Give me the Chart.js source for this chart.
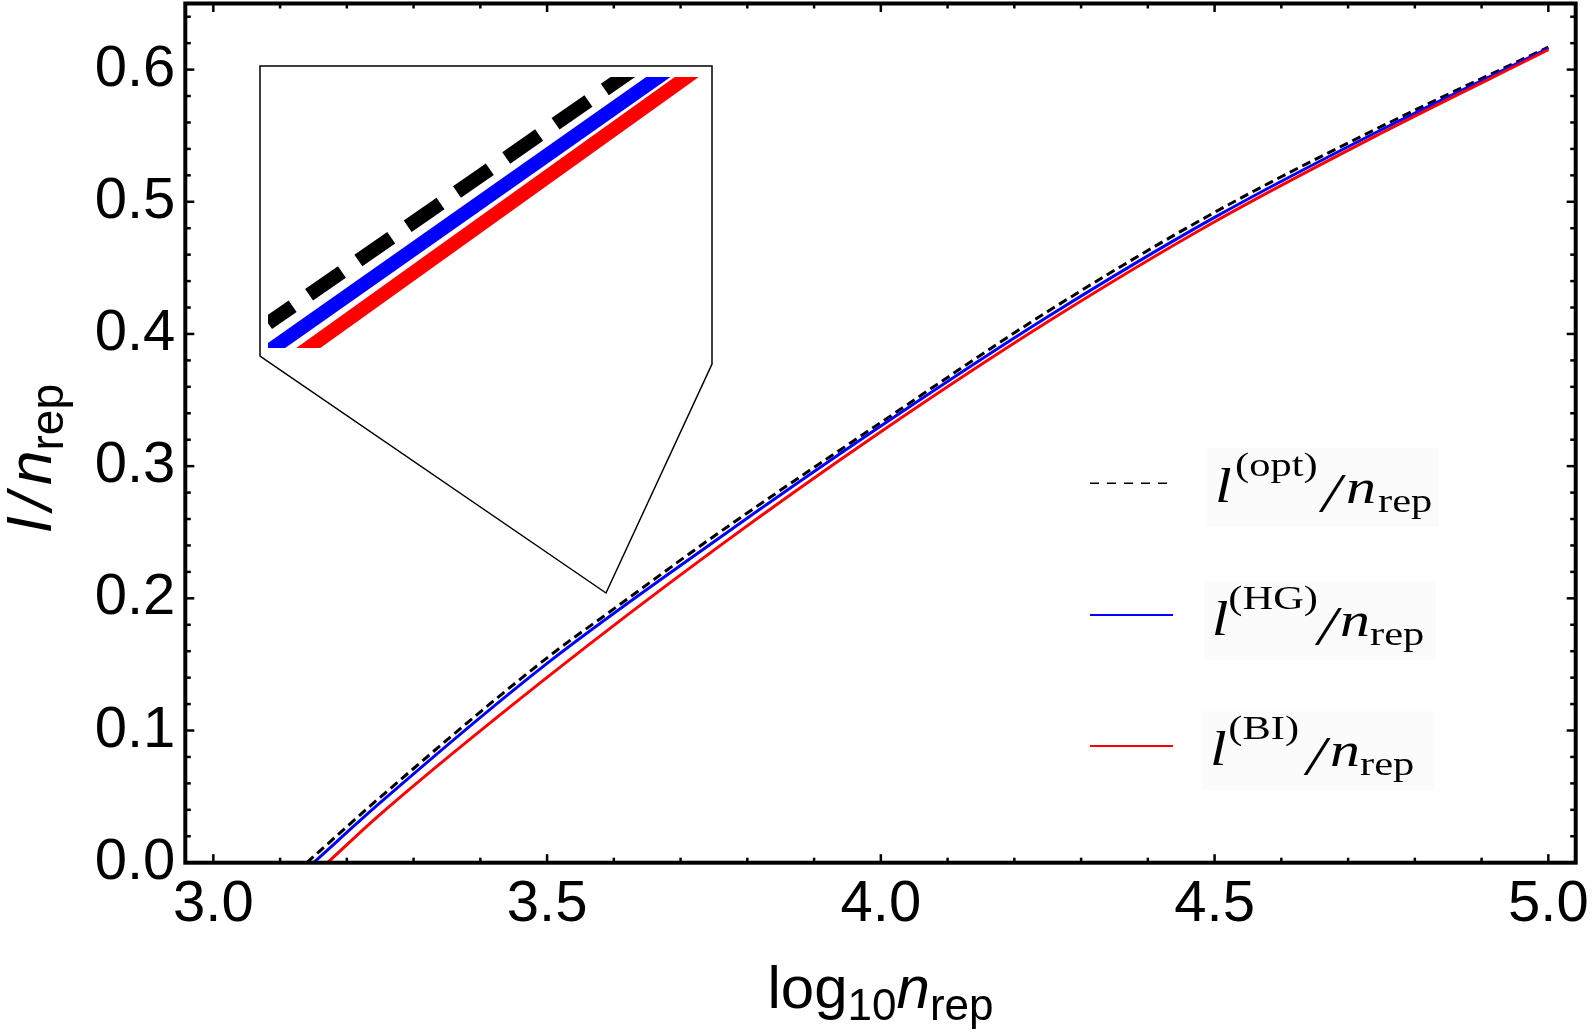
<!DOCTYPE html>
<html>
<head>
<meta charset="utf-8">
<script src="https://cdn.jsdelivr.net/npm/chart.js@4.4.1/dist/chart.umd.min.js"></script>
<style>
html,body{margin:0;padding:0;background:#fff;}
#wrap{position:relative;width:1594px;height:1036px;overflow:hidden;}
#main{position:absolute;left:0;top:0;}
#inset{position:absolute;left:268px;top:77px;}
</style>
</head>
<body>
<div id="wrap">
<canvas id="main" width="1594" height="1036"></canvas>
<canvas id="inset" width="432" height="271"></canvas>
</div>
<script>
// ---------- data ----------
const optX = [3.14, 3.25, 3.5, 3.6, 3.75, 4.0, 4.25, 4.5, 4.75, 5.0];
const optY = [0.0, 0.0495, 0.155, 0.192, 0.247, 0.333, 0.417, 0.492, 0.557, 0.617];

const hgX = [3.15, 3.25, 3.5, 3.75, 4.0, 4.25, 4.5, 4.75, 5.0];
const hgY = [0.0, 0.0454, 0.1508, 0.2428, 0.3303, 0.413, 0.4882, 0.5545, 0.616];

const biX = [3.171, 3.25, 3.5, 3.75, 4.0, 4.25, 4.5, 4.75, 5.0];
const biY = [0.0, 0.0366, 0.1402, 0.2365, 0.326, 0.4092, 0.4849, 0.552, 0.615];

// inset (magnified view), in the inset's own 0..1 coordinates
const insetX = [0, 1];
const insetOpt = [0.0914, 1.1975];
const insetHG = [-0.013, 1.108];
const insetBI = [-0.1065, 1.035];

const xTickValues = [3.0, 3.5, 4.0, 4.5, 5.0];
const xTickLabels = ['3.0', '3.5', '4.0', '4.5', '5.0'];
const yTickValues = [0.0, 0.1, 0.2, 0.3, 0.4, 0.5, 0.6];
const yTickLabels = ['0.0', '0.1', '0.2', '0.3', '0.4', '0.5', '0.6'];

const legendSup = ['(opt)', '(HG)', '(BI)'];

// ---------- helpers ----------
const pts = (xs, ys) => xs.map((x, i) => ({x: x, y: ys[i]}));
const SANS = '"Liberation Sans", Arial, sans-serif';
const SERIF = '"Liberation Serif", "Times New Roman", serif';

function line(ctx, x1, y1, x2, y2) {
  ctx.beginPath(); ctx.moveTo(x1, y1); ctx.lineTo(x2, y2); ctx.stroke();
}
function drawRuns(ctx, items, x, y) {
  let cx = x;
  for (const it of items) {
    ctx.font = it.font;
    ctx.fillText(it.t, cx, y + (it.dy || 0));
    cx += ctx.measureText(it.t).width + (it.gap || 0);
  }
  return cx - x;
}
function runsWidth(ctx, items) {
  let w = 0;
  for (const it of items) { ctx.font = it.font; w += ctx.measureText(it.t).width + (it.gap || 0); }
  return w;
}

const framePlugin = {
  id: 'frame',
  afterDatasetsDraw(chart) {
    const ctx = chart.ctx;
    // inset outline (pointer polygon)
    ctx.save();
    ctx.beginPath();
    ctx.moveTo(260, 66);
    ctx.lineTo(712, 66);
    ctx.lineTo(712, 364);
    ctx.lineTo(606, 593);
    ctx.lineTo(260, 356);
    ctx.closePath();
    ctx.fillStyle = '#ffffff';
    ctx.fill();
    ctx.strokeStyle = '#000';
    ctx.lineWidth = 1.5;
    ctx.stroke();
    ctx.restore();
  },
  afterDraw(chart) {
    const ctx = chart.ctx;
    const a = chart.chartArea;
    const xs = chart.scales.x, ys = chart.scales.y;
    ctx.save();
    ctx.strokeStyle = '#000';
    ctx.lineCap = 'butt';
    // ticks, inward on all four sides
    ctx.lineWidth = 2.5;
    for (let k = 30; k <= 50; k++) {
      const px = xs.getPixelForValue(k / 10);
      const L = (k % 5 === 0) ? 8.5 : 5;
      line(ctx, px, a.bottom, px, a.bottom - L);
      line(ctx, px, a.top, px, a.top + L);
    }
    for (let k = 0; k <= 32; k++) {
      const py = ys.getPixelForValue(k * 0.02);
      const L = (k % 5 === 0) ? 9 : 5.5;
      line(ctx, a.left, py, a.left + L, py);
      line(ctx, a.right, py, a.right - L, py);
    }
    // frame
    ctx.lineWidth = 4;
    ctx.strokeRect(a.left, a.top, a.right - a.left, a.bottom - a.top);

    // axis titles
    ctx.fillStyle = '#000';
    ctx.textBaseline = 'alphabetic';
    ctx.textAlign = 'left';
    const xt = [
      {t: 'log', font: '60px ' + SANS},
      {t: '10', font: '44px ' + SANS, dy: 12},
      {t: 'n', font: 'italic 60px ' + SANS},
      {t: 'rep', font: '44px ' + SANS, dy: 12}
    ];
    const xw = runsWidth(ctx, xt);
    drawRuns(ctx, xt, (a.left + a.right) / 2 - xw / 2, 1008);

    const yt = [
      {t: 'l', font: 'italic 62px ' + SANS, gap: 8},
      {t: '/', font: 'italic 62px ' + SANS, gap: 8},
      {t: 'n', font: 'italic 62px ' + SANS},
      {t: 'rep', font: '46px ' + SANS, dy: 12}
    ];
    const yw = runsWidth(ctx, yt);
    ctx.save();
    ctx.translate(51, 458);
    ctx.rotate(-Math.PI / 2);
    drawRuns(ctx, yt, -yw / 2, 0);
    ctx.restore();

    // legend
    const rows = [
      {y: 483.3, ly: 501.7, color: '#000', dash: [9, 8], w: 1.5, x2: 1167,
       xl: 1215, xs: 1235, xsl: 1322, xn: 1346, xr: 1378},
      {y: 615, ly: 635, color: '#0000ff', dash: [], w: 2, x2: 1173,
       xl: 1211.7, xs: 1228.3, xsl: 1318, xn: 1340, xr: 1370},
      {y: 746, ly: 765, color: '#ff0000', dash: [], w: 2, x2: 1173,
       xl: 1210, xs: 1228.3, xsl: 1306.7, xn: 1330, xr: 1360}
    ];
    const SX = 1.25;
    rows.forEach((r, i) => {
      ctx.fillStyle = '#fbfbfb';
      ctx.fillRect(r.xl - 8, r.ly - 54, 232, 79);
      ctx.strokeStyle = r.color;
      ctx.lineWidth = r.w;
      ctx.setLineDash(r.dash);
      line(ctx, 1090, r.y, r.x2, r.y);
      ctx.setLineDash([]);
      ctx.fillStyle = '#000';
      const parts = [
        {t: 'l', font: 'italic 48px ' + SERIF, x: r.xl, dy: 0},
        {t: legendSup[i], font: '34px ' + SERIF, x: r.xs, dy: -26},
        {t: '/', font: 'italic 54px ' + SERIF, x: r.xsl, dy: 9},
        {t: 'n', font: 'italic 48px ' + SERIF, x: r.xn, dy: 1},
        {t: 'rep', font: '34px ' + SERIF, x: r.xr, dy: 10}
      ];
      for (const p of parts) {
        ctx.save();
        ctx.font = p.font;
        ctx.translate(p.x, r.ly + p.dy);
        ctx.scale(SX, 1);
        ctx.fillText(p.t, 0, 0);
        ctx.restore();
      }
    });
    ctx.restore();
  }
};

const common = {borderCapStyle: 'butt', pointRadius: 0, cubicInterpolationMode: 'monotone', fill: false};

new Chart(document.getElementById('main'), {
  type: 'line',
  data: {
    datasets: [
      Object.assign({label: 'l(BI)/n_rep', data: pts(biX, biY), borderColor: '#ff0000', borderWidth: 3, order: 0}, common),
      Object.assign({label: 'l(HG)/n_rep', data: pts(hgX, hgY), borderColor: '#0000ff', borderWidth: 3, order: 1}, common),
      Object.assign({label: 'l(opt)/n_rep', data: pts(optX, optY), borderColor: '#000000', borderWidth: 3, borderDash: [9, 5], order: 2}, common)
    ]
  },
  options: {
    responsive: false,
    animation: false,
    devicePixelRatio: 1,
    layout: {autoPadding: false, padding: {left: 0, right: 18.3, top: 3.5, bottom: 0}},
    plugins: {legend: {display: false}, tooltip: {enabled: false}},
    scales: {
      x: {
        type: 'linear', min: 2.958, max: 5.041,
        afterBuildTicks: s => { s.ticks = xTickValues.map(v => ({value: v})); },
        afterFit: s => { s.height = 1036 - 862.7; s.paddingLeft = 0; s.paddingRight = 0; },
        grid: {display: false, drawTicks: false},
        border: {display: false},
        ticks: {
          autoSkip: false, maxRotation: 0, padding: 7, color: '#000',
          font: {family: SANS, size: 58},
          callback: (v, i) => xTickLabels[i]
        }
      },
      y: {
        type: 'linear', min: 0, max: 0.65,
        afterBuildTicks: s => { s.ticks = yTickValues.map(v => ({value: v})); },
        afterFit: s => { s.width = 185.3; s.paddingTop = 0; s.paddingBottom = 0; },
        grid: {display: false, drawTicks: false},
        border: {display: false},
        ticks: {
          autoSkip: false, padding: 10, color: '#000',
          font: {family: SANS, size: 58},
          callback: (v, i) => yTickLabels[i]
        }
      }
    }
  },
  plugins: [framePlugin]
});

const insetCommon = {pointRadius: 0, borderWidth: 14, borderCapStyle: 'butt', fill: false};
new Chart(document.getElementById('inset'), {
  type: 'line',
  data: {
    datasets: [
      Object.assign({label: 'BI', data: pts(insetX, insetBI), borderColor: '#ff0000', order: 0}, insetCommon),
      Object.assign({label: 'HG', data: pts(insetX, insetHG), borderColor: '#0000ff', order: 1}, insetCommon),
      Object.assign({label: 'opt', data: pts(insetX, insetOpt), borderColor: '#000000', borderDash: [40, 20], borderDashOffset: 10, order: 2}, insetCommon)
    ]
  },
  options: {
    responsive: false,
    animation: false,
    devicePixelRatio: 1,
    layout: {autoPadding: false, padding: 0},
    plugins: {legend: {display: false}, tooltip: {enabled: false}},
    scales: {
      x: {type: 'linear', min: 0, max: 1, display: false},
      y: {type: 'linear', min: 0, max: 1, display: false}
    }
  }
});
</script>
</body>
</html>
